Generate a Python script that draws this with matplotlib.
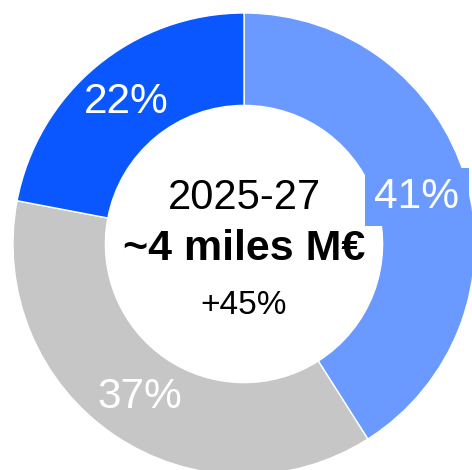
import matplotlib
matplotlib.use("Agg")
import matplotlib.pyplot as plt

plt.rcParams['font.family'] = ['Liberation Sans', 'DejaVu Sans']

# data
shares = [41, 37, 22]
labels = ["41%", "37%", "22%"]
colors = ["#6a9aff", "#c6c6c6", "#0b57ff"]
title_year = "2025-27"
title_total = "~4 miles M€"
title_growth = "+45%"

W, H = 472, 470
fig = plt.figure(figsize=(W / 100, H / 100), dpi=100)
ax = fig.add_axes([0, 0, 1, 1])

wedges, texts = ax.pie(shares, colors=colors, startangle=90, counterclock=False,
                       radius=1.0, labels=labels, labeldistance=0.8,
                       wedgeprops=dict(width=0.4, edgecolor="white", linewidth=1))

for t in texts:
    t.set_color("white")
    t.set_fontsize(30.5)
    t.set_ha("center")
    t.set_va("center")

# the 41% label sits on a box of the wedge colour, a bit lower than the wedge middle
x0, y0 = texts[0].get_position()
texts[0].set_position((x0 - 0.02, y0 - 0.02))
texts[0].set_bbox(dict(facecolor=colors[0], edgecolor="none", boxstyle="square,pad=0.22"))

ax.text(0, 0.198, title_year, ha="center", va="center", fontsize=30, color="black")
ax.text(0, -0.02, title_total, ha="center", va="center", fontsize=31,
        fontweight="bold", color="black")
ax.text(0, -0.265, title_growth, ha="center", va="center", fontsize=24, color="black")

# centre at pixel (244, 244), radius 231 px
cx, cy, r = 244, 244, 231
ax.set_xlim(-cx / r, (W - cx) / r)
ax.set_ylim(-(H - cy) / r, cy / r)
ax.set_aspect("auto")
ax.axis("off")

fig.savefig("out.png", dpi=100)
